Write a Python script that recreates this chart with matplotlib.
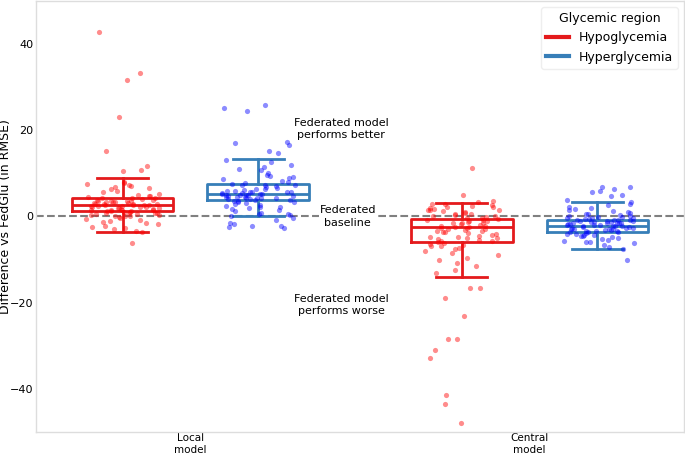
import math
import matplotlib
matplotlib.use("Agg")
import matplotlib.pyplot as plt
from matplotlib.lines import Line2D

models = ["Local\nmodel", "Central\nmodel"]
regions = ["Hypoglycemia", "Hyperglycemia"]

# values (difference vs FedGlu, RMSE)
local_hypo = [42.7, 33.2, 31.6, 23.0, 15.3, 11.7, 10.9, 10.5, 8.0, 7.8, 7.5, 7.3,
              7.0, 6.9, 6.6, 6.3, 6.0, 5.6, 5.3, 5.0, 4.8, 4.7, 4.5, 4.4, 4.3, 4.2,
              4.0, 3.9, 3.8, 3.7, 3.6, 3.5, 3.4, 3.3, 3.2, 3.1, 3.0, 2.9, 2.8, 2.7,
              2.7, 2.6, 2.6, 2.5, 2.4, 2.3, 2.2, 2.1, 2.0, 1.9, 1.8, 1.7, 1.6, 1.5,
              1.5, 1.4, 1.3, 1.2, 1.2, 1.1, 1.0, 0.9, 0.8, 0.7, 0.6, 0.5, 0.4, 0.3,
              0.2, 0.1, 0.0, -0.2, -0.4, -0.6, -0.8, -1.0, -1.2, -1.5, -1.8, -2.1,
              -2.5, -2.7, -3.0, -3.4, -3.7, -6.1, 3.6, 2.9, 1.9, 0.9, 2.4, 3.3]
local_hyper = [25.9, 25.1, 24.5, 17.2, 17.0, 16.7, 15.3, 14.8, 13.2, 12.7, 12.0,
               11.5, 10.8, 10.0, 9.6, 9.2, 9.0, 8.6, 8.3, 8.0, 7.8, 7.6, 7.4, 7.2,
               7.0, 6.8, 6.6, 6.4, 6.2, 6.0, 5.9, 5.8, 5.7, 5.6, 5.5, 5.4, 5.3, 5.3,
               5.2, 5.1, 5.0, 4.9, 4.8, 4.7, 4.6, 4.5, 4.4, 4.3, 4.2, 4.1, 4.0, 3.9,
               3.8, 3.7, 3.5, 3.3, 3.1, 2.9, 2.7, 2.5, 2.3, 2.0, 1.8, 1.5, 1.2, 0.9,
               0.6, 0.3, 0.0, -0.3, -0.8, -1.5, -1.8, -2.2, -2.3, -2.5, -2.6, 5.6,
               4.6, 6.3, 3.4, 7.3, 5.0, 4.2, 9.5, 11.0, 2.2, 0.5]
central_hypo = [11.3, 4.9, 3.6, 3.3, 3.0, 2.8, 2.6, 2.4, 2.2, 2.0, 1.8, 1.6, 1.4,
                1.2, 1.0, 0.8, 0.6, 0.4, 0.2, 0.0, -0.2, -0.4, -0.6, -0.8, -1.0,
                -1.2, -1.4, -1.6, -1.8, -2.0, -2.2, -2.4, -2.5, -2.7, -2.9, -3.1,
                -3.3, -3.5, -3.7, -3.9, -4.1, -4.3, -4.5, -4.7, -4.9, -5.1, -5.3,
                -5.5, -5.7, -5.9, -6.1, -6.3, -6.6, -6.9, -7.2, -7.6, -8.0, -8.5,
                -9.0, -9.6, -10.2, -10.8, -11.5, -12.3, -13.0, -16.6, -16.6, -19.0,
                -23.2, -28.5, -28.5, -30.9, -32.8, -41.5, -43.4, -48.0, -1.5, -3.4,
                -0.9, -2.6, 0.5, 1.5, -4.8, -6.8, -0.3, -2.1, -5.6, -1.1, 2.1, -3.0]
central_hyper = [6.9, 6.8, 6.3, 5.9, 5.7, 5.1, 4.8, 3.9, 3.4, 3.0, 2.6, 2.2, 1.8,
                 1.5, 1.2, 1.0, 0.8, 0.6, 0.4, 0.2, 0.0, -0.2, -0.3, -0.4, -0.5,
                 -0.6, -0.7, -0.8, -0.9, -1.0, -1.1, -1.2, -1.3, -1.4, -1.5, -1.6,
                 -1.7, -1.8, -1.9, -2.0, -2.1, -2.2, -2.3, -2.4, -2.5, -2.6, -2.7,
                 -2.8, -2.9, -3.0, -3.1, -3.2, -3.3, -3.4, -3.5, -3.6, -3.8, -4.0,
                 -4.2, -4.4, -4.6, -4.8, -5.0, -5.3, -5.6, -5.9, -6.2, -6.5, -7.0,
                 -7.5, -10.1, -1.0, -1.9, -2.6, -0.4, -3.3, -1.4, -0.9, -2.2, -4.1,
                 -5.4, -6.0, 0.5, -1.6, -2.9, 1.9, -0.1, -3.7, -4.5, -1.2]

# box statistics: (q1, median, q3, whisker low, whisker high)
box_stats = {
    ("Local", "Hypoglycemia"): (1.2, 2.6, 4.4, -3.7, 9.0),
    ("Local", "Hyperglycemia"): (3.9, 5.3, 7.6, 0.0, 13.4),
    ("Central", "Hypoglycemia"): (-6.0, -2.5, -0.6, -14.1, 3.2),
    ("Central", "Hyperglycemia"): (-3.6, -2.2, -0.7, -7.6, 3.4),
}
points = {
    ("Local", "Hypoglycemia"): local_hypo,
    ("Local", "Hyperglycemia"): local_hyper,
    ("Central", "Hypoglycemia"): central_hypo,
    ("Central", "Hyperglycemia"): central_hyper,
}

box_colors = {"Hypoglycemia": "#e41a1c", "Hyperglycemia": "#377eb8"}
dot_colors = {"Hypoglycemia": "red", "Hyperglycemia": "blue"}
offsets = {"Hypoglycemia": -0.2, "Hyperglycemia": 0.2}


def spread(k):
    # deterministic scatter offset in [-0.5, 0.5) for a strip-plot look
    h = math.sin(k * 12.9898 + 78.233) * 43758.5453
    return (h - math.floor(h)) - 0.5


fig = plt.figure(figsize=(6.85, 4.54), dpi=100)
ax = fig.add_axes([36 / 685, 22 / 454, 648 / 685, 431 / 454])

for i, m in enumerate(["Local", "Central"]):
    for j, r in enumerate(regions):
        pos = i + offsets[r]
        vals = points[(m, r)]
        xs = [pos + 0.22 * spread(k + 100 * (2 * i + j)) for k in range(len(vals))]
        ax.scatter(xs, vals, s=14, color=dot_colors[r], alpha=0.45,
                   linewidths=0, zorder=3)
        q1, med, q3, lo, hi = box_stats[(m, r)]
        st = [dict(med=med, q1=q1, q3=q3, whislo=lo, whishi=hi, fliers=[])]
        c = box_colors[r]
        ax.bxp(st, positions=[pos], widths=0.3, capwidths=0.15, showfliers=False,
               boxprops=dict(color=c, linewidth=2),
               medianprops=dict(color=c, linewidth=2),
               whiskerprops=dict(color=c, linewidth=2),
               capprops=dict(color=c, linewidth=2),
               manage_ticks=False)

ax.axhline(0, color="gray", linestyle="--", linewidth=1.5, zorder=1)

ax.text(0.445, 20.3, "Federated model\nperforms better", ha="center", va="center",
        fontsize=8, linespacing=1.3)
ax.text(0.464, 0, "Federated\nbaseline", ha="center", va="center", fontsize=8,
        linespacing=1.3, zorder=2,
        bbox=dict(facecolor="white", edgecolor="none", pad=0.5))
ax.text(0.445, -20.5, "Federated model\nperforms worse", ha="center", va="center",
        fontsize=8, linespacing=1.3)

ax.set_xlim(-0.455, 1.455)
ax.set_ylim(-50, 50)
ax.set_xticks([0, 1])
ax.set_xticklabels(models, fontsize=7.5)
ax.set_yticks([-40, -20, 0, 20, 40])
ax.tick_params(axis="y", labelsize=8, length=0, pad=2)
ax.tick_params(axis="x", length=0, pad=1)
ax.set_ylabel("Difference vs FedGlu (in RMSE)", fontsize=9)
ax.yaxis.set_label_coords(-0.037, 0.5)
for s in ax.spines.values():
    s.set_color("#dddddd")
    s.set_linewidth(1)

handles = [Line2D([], [], color=box_colors[r], linewidth=3) for r in regions]
leg = ax.legend(handles, regions, title="Glycemic region", loc="upper right",
                fontsize=9, title_fontsize=9, framealpha=1, edgecolor="#eeeeee",
                borderaxespad=0.5, handlelength=1.8)

fig.savefig("out.png", dpi=100)
